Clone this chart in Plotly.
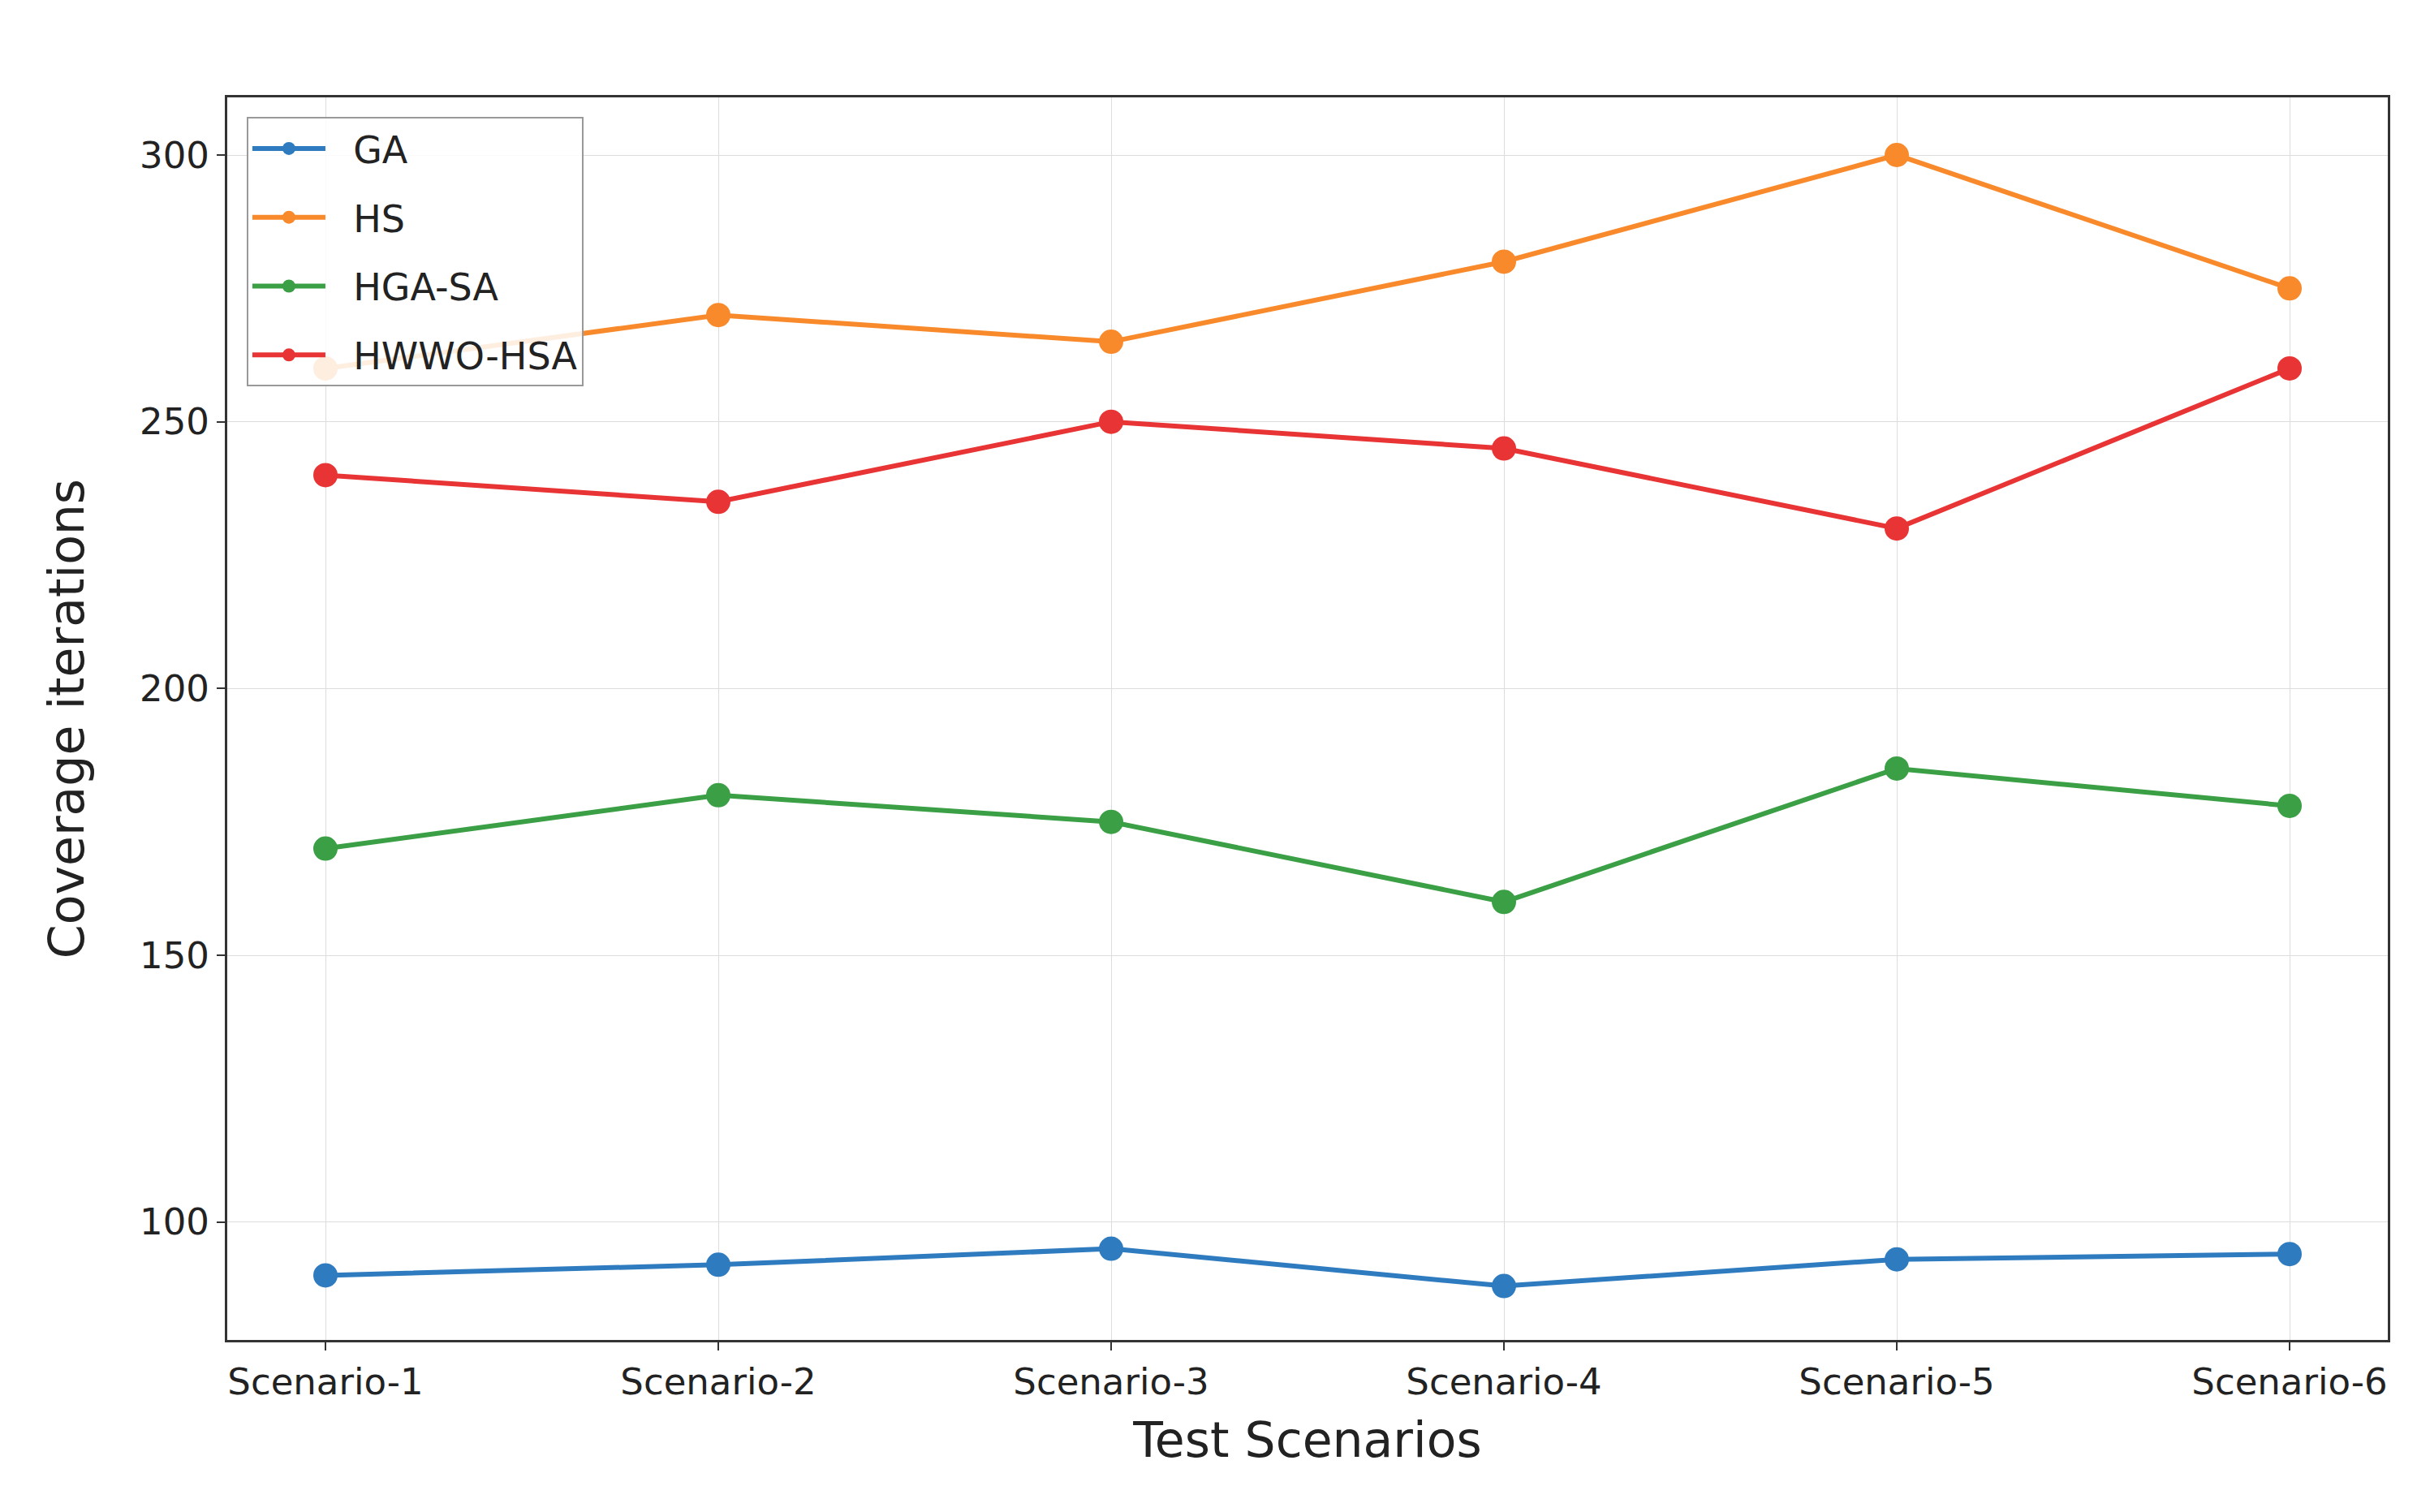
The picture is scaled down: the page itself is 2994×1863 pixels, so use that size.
import plotly.graph_objects as go

scenarios = ["Scenario-1", "Scenario-2", "Scenario-3", "Scenario-4", "Scenario-5", "Scenario-6"]
ga = [90, 92, 95, 88, 93, 94]
hs = [260, 270, 265, 280, 300, 275]
hga_sa = [170, 180, 175, 160, 185, 178]
hwwo_hsa = [240, 235, 250, 245, 230, 260]

series = [
    ("GA", ga, "#2f7bc0"),
    ("HS", hs, "#f98a2c"),
    ("HGA-SA", hga_sa, "#3a9f45"),
    ("HWWO-HSA", hwwo_hsa, "#e83434"),
]

fig = go.Figure()
for name, vals, col in series:
    fig.add_trace(go.Scatter(x=list(range(len(scenarios))), y=vals, name="  " + name,
                             legendgroup=name,
                             mode="lines+markers",
                             line=dict(color=col, width=6),
                             marker=dict(color=col, size=30)))

axis_common = dict(showgrid=True, gridcolor="#dddddd", gridwidth=1,
                   showline=True, linecolor="#333333", linewidth=3, mirror=True,
                   ticks="outside", ticklen=10, tickwidth=2, tickcolor="#333333",
                   tickfont=dict(size=45, color="#222222"), zeroline=False)

fig.update_xaxes(**axis_common, tickvals=list(range(len(scenarios))), ticktext=scenarios,
                 range=[-0.25, 5.25],
                 title=dict(text="Test Scenarios", font=dict(size=60, color="#222222"), standoff=25))
fig.update_yaxes(**axis_common, range=[77.9, 310.8], tickvals=[100, 150, 200, 250, 300],
                 title=dict(text="Coverage iterations", font=dict(size=60, color="#222222"), standoff=50))

fig.update_layout(
    width=2994, height=1863,
    margin=dict(l=272, r=60, t=112, b=220),
    plot_bgcolor="white", paper_bgcolor="white",
    font=dict(family="DejaVu Sans"),
    legend=dict(x=0.009, y=0.984, xanchor="left", yanchor="top",
                bgcolor="rgba(255,255,255,0.85)", bordercolor="#999999", borderwidth=2,
                font=dict(size=46, color="#222222"), itemwidth=90, tracegroupgap=22),
)

fig.write_html("out.html")
